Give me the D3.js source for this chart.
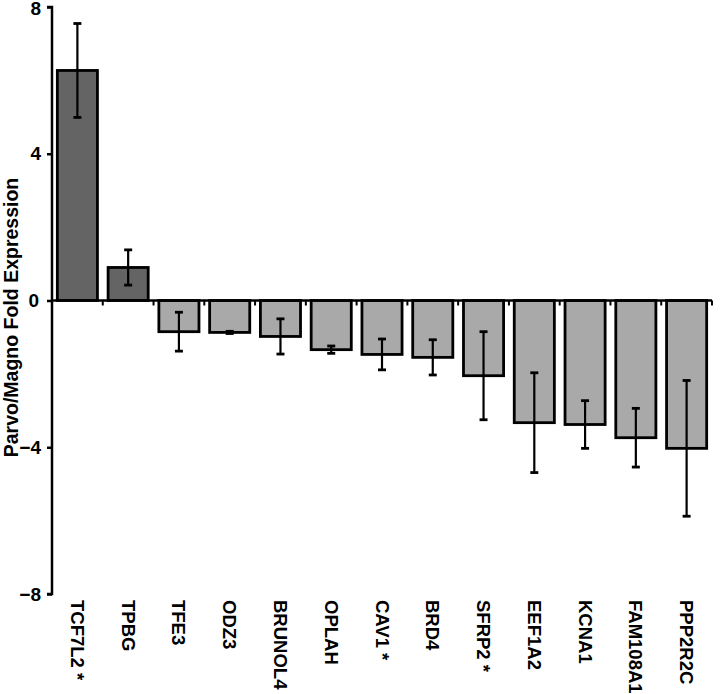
<!DOCTYPE html>
<html>
<head>
<meta charset="utf-8">
<script src="https://cdn.jsdelivr.net/npm/d3@7/dist/d3.min.js"></script>
<style>
  html, body { margin: 0; padding: 0; background: #fff; }
  svg { display: block; }
  text { font-family: Arial, "Liberation Sans", sans-serif; font-weight: bold; fill: #000; }
</style>
</head>
<body>
<svg id="chart" width="720" height="694"></svg>
<script>
const genes = ["TCF7L2 *", "TPBG", "TFE3", "ODZ3", "BRUNOL4", "OPLAH", "CAV1 *", "BRD4", "SFRP2 *", "EEF1A2", "KCNA1", "FAM108A1", "PPP2R2C"];
const foldValues = [6.27, 0.9, -0.85, -0.87, -0.98, -1.34, -1.47, -1.55, -2.05, -3.33, -3.38, -3.74, -4.03];
const errValues = [1.28, 0.48, 0.53, 0.03, 0.48, 0.1, 0.42, 0.48, 1.2, 1.36, 0.65, 0.8, 1.85];
const yTicks = [8, 4, 0, -4, -8];
const yTitle = "Parvo/Magno Fold Expression";

(function () {
const svg = d3.select("#chart");
const mLeft = 52, mRight = 712, mTop = 7, mBottom = 594;

const x = d3.scaleBand().domain(genes).range([mLeft, mRight]).paddingInner(0.21).paddingOuter(0.105);
const y = d3.scaleLinear().domain([-8, 8]).range([mBottom, mTop]);

const data = genes.map((g, i) => ({ g, v: foldValues[i], e: errValues[i] }));

// bars
svg.append("g").selectAll("rect").data(data).join("rect")
  .attr("x", d => x(d.g))
  .attr("width", x.bandwidth())
  .attr("y", d => Math.min(y(d.v), y(0)))
  .attr("height", d => Math.abs(y(d.v) - y(0)))
  .attr("fill", d => d.v > 0 ? "#646464" : "#a9a9a9")
  .attr("stroke", "#000")
  .attr("stroke-width", 2.8);

// error bars
const eg = svg.append("g").attr("stroke", "#000").attr("stroke-width", 2.2);
data.forEach(d => {
  const cx = x(d.g) + x.bandwidth() / 2;
  eg.append("line").attr("x1", cx).attr("x2", cx).attr("y1", y(d.v + d.e)).attr("y2", y(d.v - d.e));
  eg.append("line").attr("x1", cx - 4).attr("x2", cx + 4).attr("y1", y(d.v + d.e)).attr("y2", y(d.v + d.e)).attr("stroke-width", 2.8);
  eg.append("line").attr("x1", cx - 4).attr("x2", cx + 4).attr("y1", y(d.v - d.e)).attr("y2", y(d.v - d.e)).attr("stroke-width", 2.8);
});

// y axis
const yAxis = d3.axisLeft(y).tickValues(yTicks).tickSize(5).tickPadding(6).tickFormat(d3.format("d"));
const ya = svg.append("g").attr("transform", `translate(${mLeft},0)`).call(yAxis);
ya.select(".domain").attr("stroke", "#000").attr("stroke-width", 2.5).attr("d", `M-5,${mTop}H0V${mBottom}H-5`);
ya.selectAll(".tick line").attr("stroke", "#000").attr("stroke-width", 2.5);
ya.selectAll(".tick text").style("font-size", "19px").style("font-family", "Arial, 'Liberation Sans', sans-serif").style("font-weight", "bold").attr("fill", "#000");
ya.selectAll(".tick").filter(d => d === 0).select("text").attr("dx", "-2");
ya.selectAll(".tick").filter(d => d === 8).select("text").attr("dy", "0.42em");

// x axis line at zero with ticks at band boundaries
const boundaries = genes.slice(1).map(g => x(g) - x.step() * x.paddingInner() / 2);
boundaries.push(mRight);
const xa = svg.append("g");
xa.append("line").attr("x1", mLeft).attr("x2", mRight).attr("y1", y(0)).attr("y2", y(0)).attr("stroke", "#000").attr("stroke-width", 2.5);
xa.selectAll("line.t").data(boundaries).join("line").attr("class", "t")
  .attr("x1", d => d).attr("x2", d => d).attr("y1", y(0)).attr("y2", y(0) + 5)
  .attr("stroke", "#000").attr("stroke-width", 2);

// category labels
svg.append("g").selectAll("text").data(genes).join("text")
  .attr("transform", d => `translate(${x(d) + x.bandwidth() / 2},600) rotate(90)`)
  .attr("text-anchor", "start")
  .attr("dominant-baseline", "central")
  .style("font-size", "18.5px")
  .text(d => d);

// y title
svg.append("text")
  .attr("transform", `translate(11,${(178 + 457) / 2}) rotate(-90)`)
  .attr("text-anchor", "middle")
  .attr("dominant-baseline", "central")
  .style("font-size", "19.5px")
  .text(yTitle);
})();
</script>
</body>
</html>
